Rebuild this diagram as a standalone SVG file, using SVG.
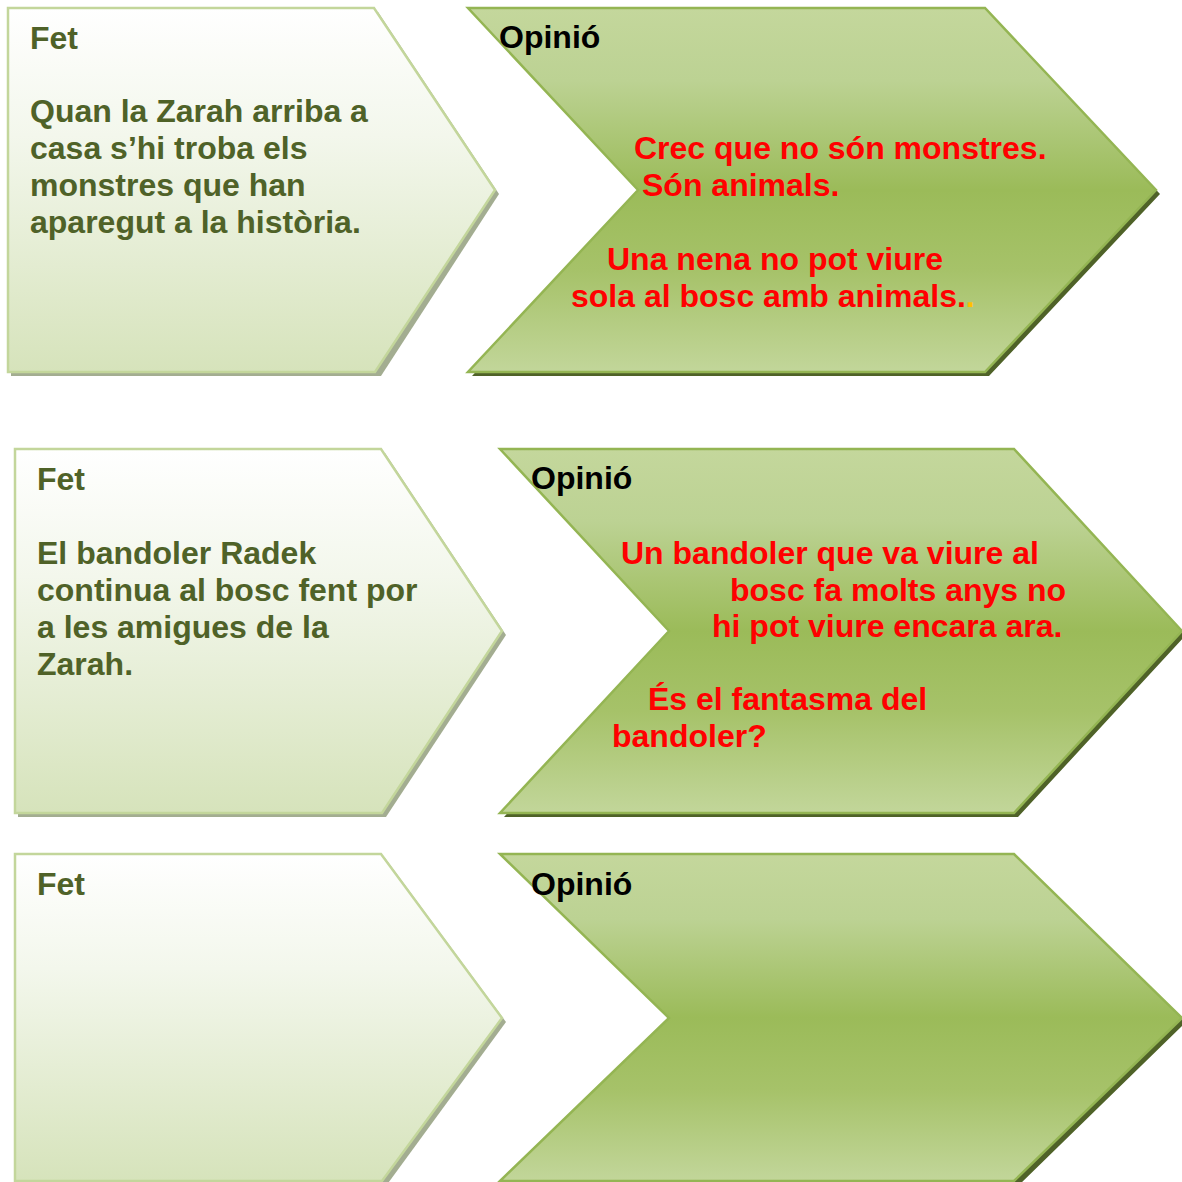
<svg xmlns="http://www.w3.org/2000/svg" width="1182" height="1182" viewBox="0 0 1182 1182">
<defs>
<linearGradient id="gFet" x1="0" y1="0" x2="0" y2="1">
<stop offset="0" stop-color="#ffffff"/>
<stop offset="0.35" stop-color="#f3f7ec"/>
<stop offset="1" stop-color="#d6e3bb"/>
</linearGradient>
<linearGradient id="gOp" x1="0" y1="0" x2="0" y2="1">
<stop offset="0" stop-color="#c4d79c"/>
<stop offset="0.2" stop-color="#bcd293"/>
<stop offset="0.5" stop-color="#9bbb59"/>
<stop offset="0.72" stop-color="#a6c269"/>
<stop offset="1" stop-color="#c2d69a"/>
</linearGradient>
<style>
.fet{fill:url(#gFet);stroke:#c3d69b;stroke-width:2.5;stroke-linejoin:miter}
.fetsh{fill:#a3ad91}
.op{fill:url(#gOp);stroke:#94b553;stroke-width:2.5;stroke-linejoin:miter}
.opsh{fill:#4f6228}
text{font-family:"Liberation Sans",Arial,Helvetica,sans-serif;font-weight:bold;font-size:32px}
.g{fill:#4f6228}
.r{fill:#ff0000}
.k{fill:#000000}
.o{fill:#ffc000}
</style>
</defs>
<rect width="1182" height="1182" fill="#ffffff"/>
<g id="connectors"></g>

<g id="fet1">
<polygon class="fetsh" points="11,12 378,12 499,194 381,376 11,376"/>
<polygon class="fet" points="8,8 374,8 495,190 375,372 8,372"/>
<text class="g"><tspan x="30" y="49">Fet</tspan><tspan x="30" y="121.5">Quan la Zarah arriba a</tspan><tspan x="30" y="158.5">casa s’hi troba els</tspan><tspan x="30" y="196">monstres que han</tspan><tspan x="30" y="233">aparegut a la història.</tspan></text>
</g>

<g id="opinio1">
<polygon class="opsh" points="472,12 989,12 1160,194 989,376 472,376 642,194"/>
<polygon class="op" points="468,8 985,8 1156,190 985,372 468,372 638,190"/>
<text class="k" x="499" y="48">Opinió</text>
<text class="r"><tspan x="634" y="159">Crec que no són monstres.</tspan><tspan x="642" y="195.5">Són animals.</tspan><tspan x="607" y="269.5">Una nena no pot viure</tspan><tspan x="571" y="306.5">sola al bosc amb animals.<tspan class="o">.</tspan></tspan></text>
</g>

<g id="fet2">
<polygon class="fetsh" points="18,453 385,453 506,635 386,817 18,817"/>
<polygon class="fet" points="15,449 381,449 502,631 382,813 15,813"/>
<text class="g"><tspan x="37" y="490">Fet</tspan><tspan x="37" y="563.5">El bandoler Radek</tspan><tspan x="37" y="601">continua al bosc fent por</tspan><tspan x="37" y="638">a les amigues de la</tspan><tspan x="37" y="675">Zarah.</tspan></text>
</g>

<g id="opinio2">
<polygon class="opsh" points="504,453 1018,453 1186,635 1018,817 504,817 673,635"/>
<polygon class="op" points="500,449 1014,449 1182,631 1014,813 500,813 669,631"/>
<text class="k" x="531" y="489">Opinió</text>
<text class="r"><tspan x="621" y="563.5">Un bandoler que va viure al</tspan><tspan x="730" y="600.5">bosc fa molts anys no</tspan><tspan x="712" y="637">hi pot viure encara ara.</tspan><tspan x="648" y="710">És el fantasma del</tspan><tspan x="612" y="747">bandoler?</tspan></text>
</g>

<g id="fet3">
<polygon class="fetsh" points="18,858 385,858 506,1022 386,1186 18,1186"/>
<polygon class="fet" points="15,854 381,854 502,1018 382,1181 15,1181"/>
<text class="g" x="37" y="895">Fet</text>
</g>

<g id="opinio3">
<polygon class="opsh" points="504,858 1018,858 1186,1022 1018,1186 504,1186 673,1022"/>
<polygon class="op" points="500,854 1014,854 1182,1018 1014,1181 500,1181 669,1018"/>
<text class="k" x="531" y="895">Opinió</text>
</g>
</svg>
